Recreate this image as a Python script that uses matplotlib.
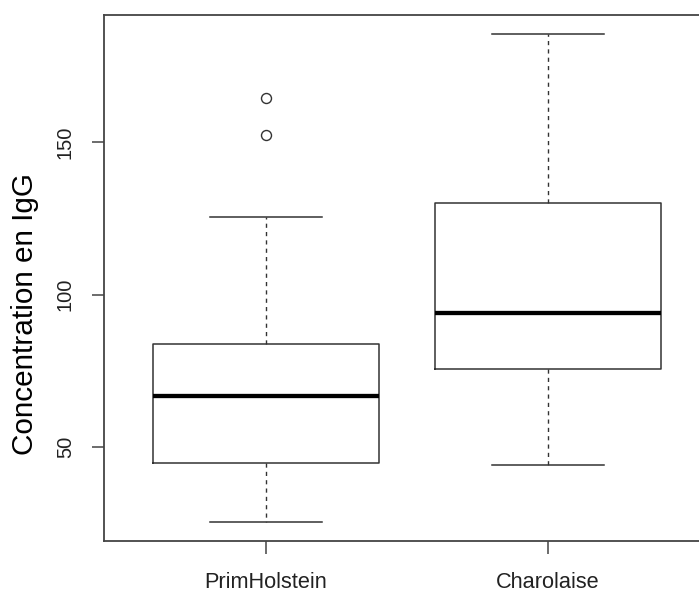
import numpy as np
import matplotlib
matplotlib.use('Agg')
import matplotlib.pyplot as plt

# --------------------------------------------------------------------------------------------
# DATA
breeds = ['PrimHolstein', 'Charolaise']
whisLow = [25.5, 44.0]
q1 = [44.9, 75.6]
medians = [66.8, 94.0]
q3 = [83.8, 129.9]
whisHigh = [125.4, 185.4]
outliers = [[152.3, 164.4], []]
yTicks = [50, 100, 150]

# --------------------------------------------------------------------------------------------
# PLOT
plt.rcParams['font.family'] = ['Liberation Sans', 'DejaVu Sans']
plt.rcParams['lines.scale_dashes'] = False

fig = plt.figure(figsize=(6.99, 5.92), dpi=100)
ax = fig.add_axes([0.1488, 0.0861, 0.867, 0.8885])

stats = []
for i in range(len(breeds)):
    stats.append({'label': breeds[i], 'whislo': whisLow[i], 'q1': q1[i], 'med': medians[i],
                  'q3': q3[i], 'whishi': whisHigh[i], 'fliers': outliers[i]})

lineCol = '#333333'
ax.bxp(stats, positions=[1, 2], widths=0.8,
       boxprops=dict(color=lineCol, linewidth=1.1),
       medianprops=dict(color='black', linewidth=3.1, solid_capstyle='butt'),
       whiskerprops=dict(color=lineCol, linewidth=1.0, linestyle=(0, (3.0, 3.0))),
       capprops=dict(color=lineCol, linewidth=1.1),
       flierprops=dict(marker='o', markersize=7.2, markerfacecolor='none',
                       markeredgecolor=lineCol, markeredgewidth=1.0))

ax.set_xlim(0.4255, 2.5745)
ax.set_ylim(19.2, 191.6)
ax.set_yticks(yTicks)
ax.set_xticks([1, 2])
ax.set_xticklabels(breeds)

for side in ax.spines:
    ax.spines[side].set_color('#444444')
    ax.spines[side].set_linewidth(1.3)

ax.tick_params(axis='both', length=9, width=1.1, color='#444444', labelcolor='#222222')
ax.tick_params(axis='x', labelsize=15.7, pad=13)
ax.tick_params(axis='y', labelsize=14.5, pad=12, labelrotation=90)
for lbl in ax.get_yticklabels():
    lbl.set_va('center')

ax.set_ylabel('Concentration en IgG', fontsize=21.4, color='black')
ax.yaxis.set_label_coords(-0.130, 0.4316)
ax.yaxis.label.set_va('center')

fig.savefig('out.png', dpi=100)
